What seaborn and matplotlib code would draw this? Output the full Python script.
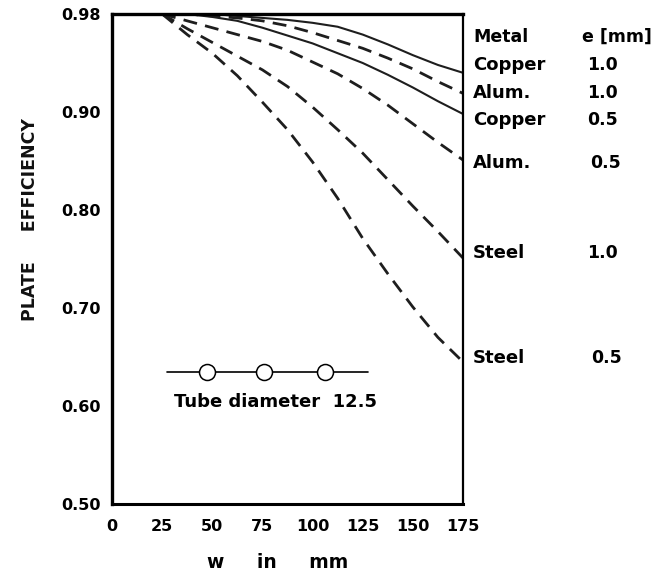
import numpy as np
import pandas as pd
import matplotlib
matplotlib.use("Agg")
import matplotlib.pyplot as plt
import seaborn as sns

# ---- data ----
w_mm = [25, 37.5, 50, 62.5, 75, 87.5, 100, 112.5, 125, 137.5, 150, 162.5, 175]
copper_10 = [1.000, 1.000, 1.000, 0.998, 0.996, 0.994, 0.991, 0.987, 0.979, 0.969, 0.958, 0.948, 0.940]
alum_10 = [1.000, 1.000, 0.998, 0.996, 0.993, 0.988, 0.981, 0.973, 0.965, 0.955, 0.944, 0.931, 0.919]
copper_05 = [1.000, 1.000, 0.997, 0.993, 0.986, 0.978, 0.970, 0.960, 0.950, 0.938, 0.925, 0.911, 0.898]
alum_05 = [1.000, 0.993, 0.986, 0.979, 0.972, 0.963, 0.951, 0.939, 0.924, 0.907, 0.888, 0.869, 0.851]
steel_10 = [1.000, 0.985, 0.971, 0.957, 0.943, 0.926, 0.905, 0.882, 0.858, 0.831, 0.804, 0.778, 0.751]
steel_05 = [1.000, 0.979, 0.960, 0.937, 0.910, 0.882, 0.849, 0.812, 0.771, 0.735, 0.701, 0.670, 0.645]

series_names = ["Copper 1.0", "Alum. 1.0", "Copper 0.5", "Alum. 0.5", "Steel 1.0", "Steel 0.5"]
series_values = [copper_10, alum_10, copper_05, alum_05, steel_10, steel_05]
series_solid = [True, False, True, False, False, False]

metals = ["Copper", "Alum.", "Copper", "Alum.", "Steel", "Steel"]
thickness = ["1.0", "1.0", "0.5", "0.5", "1.0", "0.5"]

x_ticks = [0, 25, 50, 75, 100, 125, 150, 175]
y_ticks = [0.50, 0.60, 0.70, 0.80, 0.90, 1.00]
y_tick_labels = ["0.50", "0.60", "0.70", "0.80", "0.90", "0.98"]

tube_x = [47.5, 76, 106]
tube_label = "Tube diameter  12.5"

# ---- layout / style ----
label_y = [0.948, 0.919, 0.892, 0.848, 0.756, 0.649]
value_x = [237, 237, 237, 238.5, 237, 239]

df = pd.DataFrame({
    "w": np.concatenate([w_mm] * len(series_names)),
    "eff": np.concatenate(series_values),
    "series": np.repeat(series_names, len(w_mm)),
})

sns.set_style("white")
plt.rcParams["font.family"] = ["DejaVu Sans"]
plt.rcParams["font.weight"] = "bold"
plt.rcParams["text.color"] = "black"
plt.rcParams["xtick.color"] = "black"
plt.rcParams["ytick.color"] = "black"
plt.rcParams["xtick.labelcolor"] = "black"
plt.rcParams["ytick.labelcolor"] = "black"

fig = plt.figure(figsize=(6.57, 5.76), dpi=100)
ax = fig.add_axes([112 / 657, 1 - 504 / 576, 351 / 657, 490 / 576])

ink = "#1e1e1e"
dashes = {n: ("" if s else (5, 3)) for n, s in zip(series_names, series_solid)}
sns.lineplot(data=df, x="w", y="eff", hue="series", style="series",
             palette={n: ink for n in series_names}, dashes=dashes,
             legend=False, ax=ax, estimator=None, sort=False)
for line, solid in zip(ax.lines, series_solid):
    line.set_linewidth(1.5 if solid else 2.0)
    line.set_clip_on(True)

ax.set_xlim(0, 175)
ax.set_ylim(0.5, 1.0)
ax.set_xticks(x_ticks)
ax.set_xticklabels([str(t) for t in x_ticks], fontsize=11.5, fontweight="bold", color="black")
ax.set_yticks(y_ticks)
ax.set_yticklabels(y_tick_labels, fontsize=11.5, fontweight="bold", color="black")
ax.tick_params(axis="x", direction="in", length=5, width=2, pad=11, colors="black")
ax.tick_params(axis="y", direction="in", length=6, width=2.5, pad=8, colors="black")
ax.set_xlabel("")
ax.set_ylabel("")

for side, lw in [("left", 2.4), ("bottom", 2.2), ("top", 2.4), ("right", 1.6)]:
    ax.spines[side].set_visible(True)
    ax.spines[side].set_linewidth(lw)
    ax.spines[side].set_color("black")

# right-hand labels
ax.text(180, 0.9765, "Metal", fontsize=12.5, fontweight="bold", va="center", ha="left",
        clip_on=False, color="black")
ax.text(234.5, 0.9765, "e [mm]", fontsize=12.5, fontweight="bold", va="center", ha="left",
        clip_on=False, color="black")
for m, t, yy, vx in zip(metals, thickness, label_y, value_x):
    ax.text(180, yy, m, fontsize=13, fontweight="bold", va="center", ha="left",
            clip_on=False, color="black")
    ax.text(vx, yy, t, fontsize=12.5, fontweight="bold", va="center", ha="left",
            clip_on=False, color="black")

# tube diameter symbol
ax.plot([27.5, 127.5], [0.6347, 0.6347], color="black", lw=1.2)
ax.plot(tube_x, [0.6347] * len(tube_x), linestyle="none", marker="o", ms=11.5,
        mfc="white", mec="black", mew=1.1)
ax.text(31, 0.604, tube_label, fontsize=13, fontweight="bold", va="center", ha="left",
        color="black")

fig.text(278 / 657, 1 - 563 / 576, "w     in     mm", fontsize=13.5, fontweight="bold",
         ha="center", va="center", color="black")
fig.text(30 / 657, 1 - 220 / 576, "PLATE     EFFICIENCY", fontsize=12.5, fontweight="bold",
         rotation=90, ha="center", va="center", color="#111111")

fig.savefig("out.png", dpi=100, facecolor="white")
